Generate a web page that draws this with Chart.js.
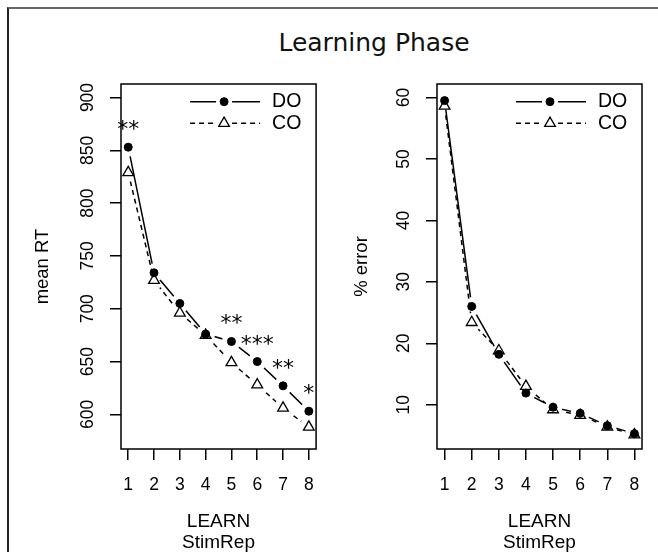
<!DOCTYPE html>
<html>
<head>
<meta charset="utf-8">
<title>Learning Phase</title>
<script src="https://cdn.jsdelivr.net/npm/chart.js@4.4.1/dist/chart.umd.min.js"></script>
<style>
  body { margin: 0; background: #fff; overflow: hidden; }
  #page { position: relative; width: 658px; height: 552px; overflow: hidden; }
  #frame { position: absolute; left: 7px; top: 7px; width: 700px; height: 600px;
           border-left: 2px solid #222; border-top: 2px solid #666; }
  #title { position: absolute; left: 0; width: 748px; top: 28px; line-height: 25px;
           text-align: center; font: 25px 'DejaVu Sans'; color: #111; }
  canvas { position: absolute; top: 0; }
</style>
</head>
<body>
<div id="page">
  <div id="frame"></div>
  <div id="title">Learning Phase</div>
  <canvas id="rtChart" width="329" height="552" style="left:0"></canvas>
  <canvas id="errChart" width="329" height="552" style="left:329px"></canvas>
</div>
<script>
// x: stimulus repetition
var stimRep = [1, 2, 3, 4, 5, 6, 7, 8];

// mean RT (ms)
var rtDO = [853, 734, 705, 676, 669, 650, 627, 603];
var rtCO = [829, 727, 696, 675, 649, 628, 606, 588];
var rtTicks = [600, 650, 700, 750, 800, 850, 900];
var rtStars = ['**', '', '', '', '**', '***', '**', '*'];

// % error
var errDO = [59.5, 26.0, 18.2, 11.9, 9.6, 8.6, 6.6, 5.3];
var errCO = [58.6, 23.4, 18.8, 13.0, 9.2, 8.3, 6.4, 5.1];
var errTicks = [10, 20, 30, 40, 50, 60];

var FONT = "'Liberation Sans', Arial, sans-serif";
var GAP = 9.5; // R type="b" gap round each point
var LW = 1.5;

Chart.defaults.font.family = FONT;
Chart.defaults.color = '#000';

function pairs(xs, ys) {
  return xs.map(function (x, i) { return { x: x, y: ys[i] }; });
}

function marker(ctx, ds, x, y) {
  ctx.save();
  ctx.lineWidth = ds.pointBorderWidth;
  ctx.strokeStyle = ds.pointBorderColor;
  ctx.fillStyle = ds.pointBackgroundColor;
  ctx.beginPath();
  if (ds.pointStyle === 'triangle') {
    var r = ds.pointRadius, a = 0;
    ctx.moveTo(x + Math.sin(a) * r, y - Math.cos(a) * r);
    a += Math.PI * 2 / 3;
    ctx.lineTo(x + Math.sin(a) * r, y - Math.cos(a) * r);
    a += Math.PI * 2 / 3;
    ctx.lineTo(x + Math.sin(a) * r, y - Math.cos(a) * r);
    ctx.closePath();
  } else {
    ctx.arc(x, y, ds.pointRadius, 0, Math.PI * 2);
  }
  ctx.fill();
  ctx.stroke();
  ctx.restore();
}

// R look: lines broken round points, box, rotated y labels, stars, legend
var rPanel = {
  id: 'rPanel',
  beforeDatasetDraw: function (chart, args) {
    var ctx = chart.ctx;
    ctx.save();
    ctx.beginPath();
    ctx.rect(0, 0, chart.width, chart.height);
    args.meta.data.forEach(function (pt) {
      ctx.moveTo(pt.x + GAP, pt.y);
      ctx.arc(pt.x, pt.y, GAP, 0, Math.PI * 2);
    });
    ctx.clip('evenodd');
  },
  afterDatasetDraw: function (chart, args) {
    chart.ctx.restore();
    args.meta.data.forEach(function (pt) { pt.draw(chart.ctx, chart.chartArea); });
  },
  afterDraw: function (chart, args, opts) {
    var ctx = chart.ctx, a = chart.chartArea, ys = chart.scales.y;
    ctx.save();

    ctx.lineWidth = LW;
    ctx.strokeStyle = '#000';
    ctx.strokeRect(a.left, a.top, a.right - a.left, a.bottom - a.top);

    ctx.fillStyle = '#000';
    ctx.font = '17.5px ' + FONT;
    ctx.textAlign = 'center';
    ctx.textBaseline = 'middle';
    ys.ticks.forEach(function (t) {
      ctx.save();
      ctx.translate(a.left - 33, ys.getPixelForValue(t.value));
      ctx.rotate(-Math.PI / 2);
      ctx.fillText(String(t.value), 0, 0);
      ctx.restore();
    });

    if (opts.stars) {
      var pts = chart.getDatasetMeta(0).data;
      ctx.font = "22px 'DejaVu Sans'";
      ctx.textBaseline = 'alphabetic';
      opts.stars.forEach(function (s, i) {
        if (s) ctx.fillText(s, pts[i].x, pts[i].y - 11);
      });
    }

    ctx.font = '19.5px ' + FONT;
    ctx.textAlign = 'left';
    ctx.textBaseline = 'middle';
    chart.data.datasets.forEach(function (ds, i) {
      var ly = a.top + 17.7 + i * 21.6;
      var mx = a.right - 92;
      ctx.save();
      ctx.lineWidth = ds.borderWidth;
      ctx.strokeStyle = ds.borderColor;
      ctx.setLineDash(ds.borderDash || []);
      ctx.beginPath();
      ctx.moveTo(a.right - 126, ly);
      ctx.lineTo(mx - 8, ly);
      ctx.moveTo(mx + 8, ly);
      ctx.lineTo(a.right - 56, ly);
      ctx.stroke();
      ctx.restore();
      marker(ctx, ds, mx, ly);
      ctx.fillText(ds.label, a.right - 44, ly);
    });

    ctx.restore();
  }
};

function makePanel(id, doVals, coVals, yMin, yMax, yTicks, yTitle, yWidth, padRight, titlePad, stars) {
  return new Chart(document.getElementById(id), {
    type: 'line',
    data: {
      datasets: [{
        label: 'DO',
        data: pairs(stimRep, doVals),
        borderColor: '#000',
        borderWidth: LW,
        pointStyle: 'circle',
        pointRadius: 4,
        pointBackgroundColor: '#000',
        pointBorderColor: '#000',
        pointBorderWidth: 1
      }, {
        label: 'CO',
        data: pairs(stimRep, coVals),
        borderColor: '#000',
        borderWidth: LW,
        borderDash: [5, 4],
        pointStyle: 'triangle',
        pointRadius: 6.2,
        pointBackgroundColor: 'rgba(0,0,0,0)',
        pointBorderColor: '#000',
        pointBorderWidth: 1.3
      }]
    },
    options: {
      responsive: false,
      animation: false,
      events: [],
      layout: { padding: { top: 84, right: padRight, left: 0, bottom: 0 } },
      plugins: {
        legend: { display: false },
        tooltip: { enabled: false },
        rPanel: { stars: stars }
      },
      scales: {
        x: {
          type: 'linear',
          min: 0.72,
          max: 8.28,
          afterBuildTicks: function (s) { s.ticks = stimRep.map(function (v) { return { value: v }; }); },
          afterFit: function (s) { s.height = 103; },
          border: { display: false },
          grid: { drawOnChartArea: false, drawTicks: true, tickLength: 11, color: '#000', lineWidth: LW },
          ticks: { font: { size: 17.5 }, padding: 15, maxRotation: 0, autoSkip: false, color: '#000' },
          title: {
            display: true,
            text: ['LEARN', 'StimRep'],
            font: { size: 19, lineHeight: 1.13 },
            padding: { top: 0, bottom: -1.5 },
            color: '#000'
          }
        },
        y: {
          type: 'linear',
          min: yMin,
          max: yMax,
          afterBuildTicks: function (s) { s.ticks = yTicks.map(function (v) { return { value: v }; }); },
          afterFit: function (s) { s.width = yWidth; },
          border: { display: false },
          grid: { drawOnChartArea: false, drawTicks: true, tickLength: 11, color: '#000', lineWidth: LW },
          ticks: { font: { size: 17 }, color: 'rgba(0,0,0,0)' },
          title: {
            display: true,
            text: yTitle,
            font: { size: 18.5, lineHeight: 1.2 },
            padding: { top: titlePad, bottom: 0 },
            color: '#000'
          }
        }
      }
    },
    plugins: [rPanel]
  });
}

makePanel('rtChart', rtDO, rtCO, 567.2, 912.8, rtTicks, 'mean RT', 121, 3, 32, rtStars);
makePanel('errChart', errDO, errCO, 2.8, 62.2, errTicks, '% error', 108, 16, 22, null);
</script>
</body>
</html>
